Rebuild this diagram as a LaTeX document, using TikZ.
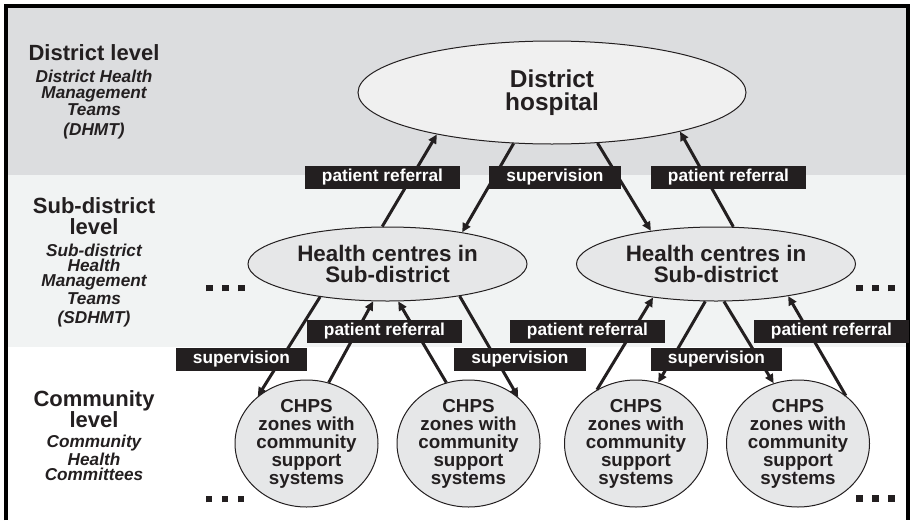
\documentclass[tikz,border=0pt]{standalone}
\usepackage{fontspec}
\setmainfont{Liberation Sans}
\usepackage{tikz}
\usepackage{xcolor}
\usetikzlibrary{shapes.geometric,arrows.meta}
\definecolor{inkgray}{HTML}{231F20}
\definecolor{distband}{HTML}{DCDDDF}
\definecolor{subband}{HTML}{F1F3F3}
\definecolor{hospfill}{HTML}{F0F0F0}
\definecolor{unitfill}{HTML}{E6E7E8}
\tikzset{
    level/.style={font=\bfseries\fontsize{11}{10.5}\selectfont, text=inkgray, align=center, inner sep=0pt},
    team/.style={font=\bfseries\itshape\fontsize{8.6}{7.6}\selectfont, text=inkgray, align=center, inner sep=0pt},
    unit/.style={ellipse, draw=inkgray, line width=0.5pt, inner sep=0pt, align=center, text=inkgray},
    tag/.style={fill=inkgray, text=white, font=\bfseries\fontsize{8.65}{10}\selectfont, inner xsep=8.6pt, inner ysep=0pt, minimum height=11.5pt},
    flow/.style={line width=1.5pt, draw=inkgray, -{Triangle[length=4.5pt,width=4.2pt]}},
    more/.style={inner sep=0pt, text=inkgray},
}
\newcommand{\sq}{\rule{3.25pt}{3.25pt}}

\begin{document}
\begin{tikzpicture}[x=0.5pt,y=-0.5pt]
		\useasboundingbox (0,0) rectangle (910,520);
		% level bands and frame
		\fill[distband] (5.8,6) rectangle (908.5,175);
		\fill[subband] (5.8,175) rectangle (908.5,347);
		\draw[line width=2.2pt] (5.8,520) -- (5.8,6) -- (908.5,6) -- (908.5,520);

		% left column
		\node[level] (dlev) at (94,53) {District level};
		\node[team] (dteam) at (94,93) {District Health\\Management\\Teams};
		\node[team] (dacr) at (94,131) {(DHMT)};
		\node[level] (slev) at (94,216.5) {Sub-district\\level};
		\node[team] (steam) at (94,274) {Sub-district\\Health\\Management\\Teams};
		\node[team] (sacr) at (94,319) {(SDHMT)};
		\node[level] (clev) at (94,409.5) {Community\\level};
		\node[team] (cteam) at (94,458) {Community\\Health\\Committees};

		% units
		\node[unit, fill=hospfill, minimum width=194pt, minimum height=51.5pt, font=\bfseries\fontsize{12.2}{11.3}\selectfont] (hosp) at (552,92.5) {District\\hospital};
		\node[unit, fill=unitfill, minimum width=139.5pt, minimum height=37pt, font=\bfseries\fontsize{11.2}{10.5}\selectfont] (hcl) at (387.5,264) {Health centres in\\Sub-district};
		\node[unit, fill=unitfill, minimum width=139.5pt, minimum height=37pt, font=\bfseries\fontsize{11.2}{10.5}\selectfont] (hcr) at (716,264) {Health centres in\\Sub-district};
		\foreach \n/\x in {ca/306.5, cb/468.5, cc/636, cd/798}
			\node[unit, fill=unitfill, minimum width=71.5pt, minimum height=63.5pt, font=\bfseries\fontsize{9.4}{9}\selectfont] (\n) at (\x,443.5) {CHPS\\zones with\\community\\support\\systems};

		% referral and supervision
		\draw[flow] (hcl.98.5) -- (hosp.-160.2);
		\draw[flow] (hosp.-127.8) -- (hcl.23.6);
		\draw[flow] (hosp.-48.2) -- (hcr.153.7);
		\draw[flow] (hcr.65.9) -- (hosp.-17.3);
		\draw[flow] (hcl.-154.3) -- (ca.136.1);
		\draw[flow] (ca.70.7) -- (hcl.-111.5);
		\draw[flow] (cb.110.4) -- (hcl.-74.6);
		\draw[flow] (hcl.-24.5) -- (cb.43.9);
		\draw[flow] (cc.126.8) -- (hcr.-152.7);
		\draw[flow] (hcr.-106.1) -- (cc.70.3);
		\draw[flow] (hcr.-78.1) -- (cd.112.5);
		\draw[flow] (cd.45.9) -- (hcr.-24.3);

		\node[tag] (ref1) at (382.5,177.5) {patient referral};
		\node[tag] (sup1) at (555,177.5) {supervision};
		\node[tag] (ref2) at (728.5,177.5) {patient referral};
		\node[tag] (ref3) at (384.5,331.5) {patient referral};
		\node[tag] (ref4) at (587.5,331.5) {patient referral};
		\node[tag] (ref5) at (831.5,331.5) {patient referral};
		\node[tag] (sup2) at (241.5,359.5) {supervision};
		\node[tag] (sup3) at (520,359.5) {supervision};
		\node[tag] (sup4) at (716.5,359.5) {supervision};

		% more units not shown
		\node[more] (morel) at (225.5,288) {\sq\hspace{4.75pt}\sq\hspace{4.75pt}\sq};
		\node[more] (morer) at (875.5,288) {\sq\hspace{4.75pt}\sq\hspace{4.75pt}\sq};
		\node[more] (morebl) at (225,499) {\sq\hspace{4.75pt}\sq\hspace{4.75pt}\sq};
		\node[more] (morebr) at (875.5,498.5) {\sq\hspace{4.75pt}\sq\hspace{4.75pt}\sq};
	\end{tikzpicture}
\end{document}
